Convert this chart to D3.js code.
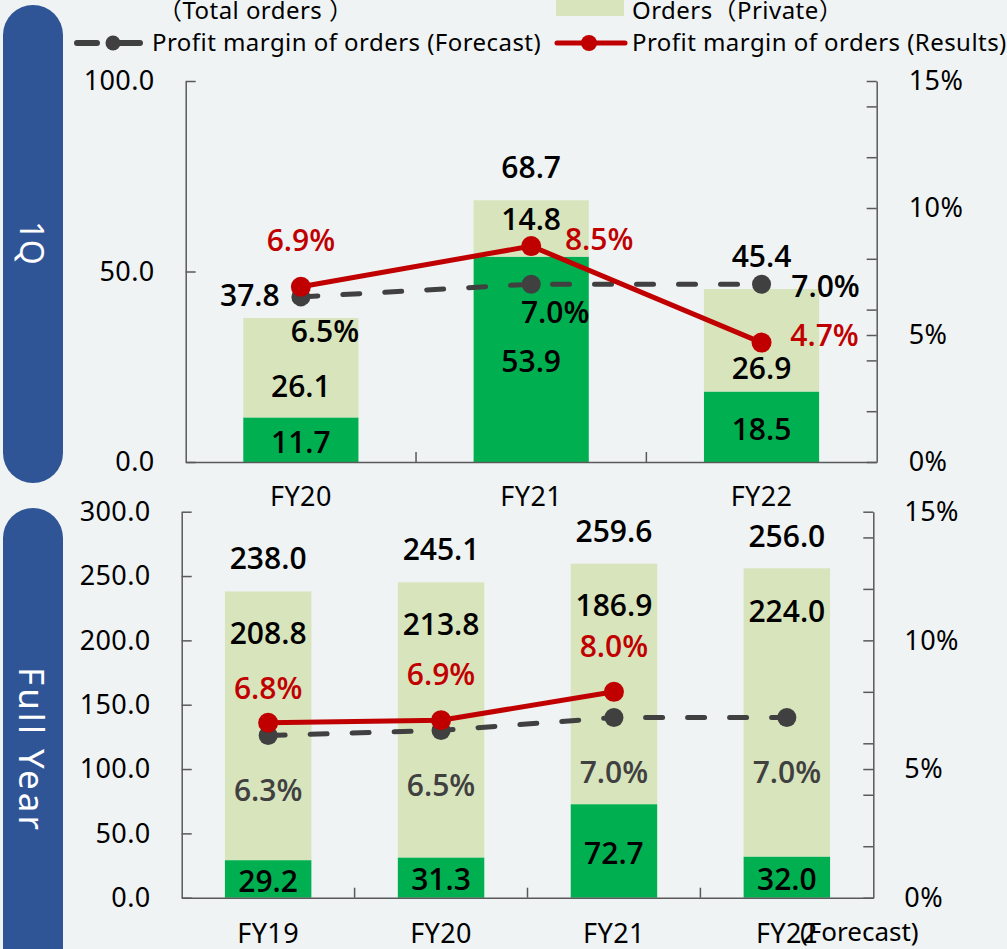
<!DOCTYPE html>
<html>
<head>
<meta charset="utf-8">
<script src="https://cdn.jsdelivr.net/npm/d3@7"></script>
<style>
  body { margin: 0; background: #eff3f4; }
  svg { display: block; font-family: "Noto Sans", "Noto Sans CJK JP", sans-serif; }
  .val { font-family: "Open Sans", "Noto Sans", sans-serif; font-weight: 600; font-size: 30px; }
</style>
</head>
<body>
<div id="chart"></div>
<script>
// ---- data ----
// 1Q panel
var cats1 = ["FY20", "FY21", "FY22"];
var public1 = [11.7, 53.9, 18.5];
var private1 = [26.1, 14.8, 26.9];
var total1 = [37.8, 68.7, 45.4];
var forecast1 = [6.5, 7.0, 7.0];
var results1 = [6.9, 8.5, 4.7];

// Full year panel
var cats2 = ["FY19", "FY20", "FY21", "FY22"];
var public2 = [29.2, 31.3, 72.7, 32.0];
var private2 = [208.8, 213.8, 186.9, 224.0];
var total2 = [238.0, 245.1, 259.6, 256.0];
var forecast2 = [6.3, 6.5, 7.0, 7.0];
var results2 = [6.8, 6.9, 8.0];

var leftTicks1 = [0, 50, 100];
var leftTicks2 = [0, 50, 100, 150, 200, 250, 300];
var rightTicks = [0, 2, 4, 5, 6, 8, 10, 12, 14, 15];
var rightLabels = [0, 5, 10, 15];

// ---- colours ----
var cGreen = "#00b050", cLight = "#d8e4bc", cRed = "#c00000", cGrey = "#404040",
    cAxis = "#595959", cPill = "#2f5597";

var svg = d3.select("#chart").append("svg")
  .attr("width", 1007)
  .attr("height", 949);

// blue side pills
svg.append("rect").attr("x", 3).attr("y", 5).attr("width", 60).attr("height", 478)
  .attr("rx", 30).attr("fill", cPill);
svg.append("rect").attr("x", 3).attr("y", 508).attr("width", 60).attr("height", 500)
  .attr("rx", 30).attr("fill", cPill);
svg.append("text").attr("transform", "translate(32,243) rotate(90)")
  .attr("text-anchor", "middle").attr("dy", "0.36em")
  .style("font-size", "32px").attr("fill", "#fff").text("1Q");
svg.append("text").attr("transform", "translate(32,750) rotate(90)")
  .attr("text-anchor", "middle").attr("dy", "0.36em")
  .style("font-size", "35px").style("letter-spacing", "3px").attr("fill", "#fff").text("Full Year");

// legend
var lg = svg.append("g").style("font-size", "24px").style("letter-spacing", "0.45px").attr("fill", "#000");
lg.append("text").attr("x", 158).attr("y", 19).text("（Total orders ）");
lg.append("rect").attr("x", 556).attr("y", -4).attr("width", 68).attr("height", 20).attr("fill", cLight);
lg.append("text").attr("x", 632).attr("y", 19).text("Orders（Private）");
lg.append("line").attr("x1", 77).attr("x2", 97).attr("y1", 43).attr("y2", 43)
  .attr("stroke", cGrey).attr("stroke-width", 6).attr("stroke-linecap", "round");
lg.append("line").attr("x1", 113).attr("x2", 140).attr("y1", 43).attr("y2", 43)
  .attr("stroke", cGrey).attr("stroke-width", 6).attr("stroke-linecap", "round");
lg.append("circle").attr("cx", 113).attr("cy", 43).attr("r", 7.5).attr("fill", cGrey);
lg.append("text").attr("x", 152).attr("y", 51).text("Profit margin of orders (Forecast)");
lg.append("line").attr("x1", 557).attr("x2", 625).attr("y1", 43).attr("y2", 43)
  .attr("stroke", cRed).attr("stroke-width", 5).attr("stroke-linecap", "round");
lg.append("circle").attr("cx", 589).attr("cy", 43).attr("r", 8).attr("fill", cRed);
lg.append("text").attr("x", 632).attr("y", 51).text("Profit margin of orders (Results)");

// ---- one panel ----
function drawPanel(o) {
  var g = svg.append("g");
  var x = d3.scaleBand().domain(o.cats).range([o.left, o.right])
    .paddingInner(0.5).paddingOuter(0.25);
  var y = d3.scaleLinear().domain([0, o.maxL]).range([o.bottom, o.top]);
  var r = d3.scaleLinear().domain([0, 15]).range([o.bottom, o.top]);
  var cx = function(i) { return x(o.cats[i]) + x.bandwidth() / 2; };

  // bars
  o.cats.forEach(function(c, i) {
    g.append("rect").attr("x", x(c)).attr("width", x.bandwidth())
      .attr("y", y(o.pub[i])).attr("height", y(0) - y(o.pub[i])).attr("fill", cGreen);
    g.append("rect").attr("x", x(c)).attr("width", x.bandwidth())
      .attr("y", y(o.pub[i] + o.priv[i])).attr("height", y(o.pub[i]) - y(o.pub[i] + o.priv[i]))
      .attr("fill", cLight);
  });

  // axes
  var ya = g.append("g").attr("transform", "translate(" + o.left + ",0)")
    .call(d3.axisLeft(y).tickValues(o.leftTicks).tickFormat(d3.format(".1f"))
      .tickSizeInner(-10).tickSizeOuter(0).tickPadding(o.padL));
  var ra = g.append("g").attr("transform", "translate(" + o.right + ",0)")
    .call(d3.axisRight(r).tickValues(rightTicks)
      .tickFormat(function(d) { return rightLabels.indexOf(d) >= 0 ? d + "%" : ""; })
      .tickSizeInner(-10).tickSizeOuter(0).tickPadding(o.padR));
  var xa = g.append("g").attr("transform", "translate(0," + o.bottom + ")")
    .call(d3.axisBottom(x).tickSize(0).tickPadding(o.padB));
  [ya, ra, xa].forEach(function(a) {
    a.attr("font-family", null).attr("font-size", null)
      .style("font-size", "27px").style("letter-spacing", "0.4px");
    a.selectAll("text").attr("fill", "#000");
    a.selectAll("path, line").attr("stroke", cAxis).attr("stroke-width", 1.5);
  });
  // category separators
  o.cats.slice(1).forEach(function(c) {
    var sx = x(c) - x.step() * x.paddingInner() / 2;
    g.append("line").attr("x1", sx).attr("x2", sx)
      .attr("y1", o.bottom).attr("y2", o.bottom - 10)
      .attr("stroke", cAxis).attr("stroke-width", 1.5);
  });

  // lines
  var line = d3.line().x(function(d, i) { return cx(i); }).y(function(d) { return r(d); });
  g.append("path").datum(o.fc).attr("d", line).attr("fill", "none")
    .attr("stroke", cGrey).attr("stroke-width", 5).attr("stroke-linecap", "round")
    .attr("stroke-dasharray", "17,25");
  g.selectAll(".fdot").data(o.fc).enter().append("circle")
    .attr("cx", function(d, i) { return cx(i); }).attr("cy", function(d) { return r(d); })
    .attr("r", 9.5).attr("fill", cGrey);
  g.append("path").datum(o.res).attr("d", line).attr("fill", "none")
    .attr("stroke", cRed).attr("stroke-width", 5);
  g.selectAll(".rdot").data(o.res).enter().append("circle")
    .attr("cx", function(d, i) { return cx(i); }).attr("cy", function(d) { return r(d); })
    .attr("r", 10).attr("fill", cRed);

  // value labels
  function label(px, py, txt, col) {
    g.append("text").attr("class", "val").attr("x", px).attr("y", py).attr("dy", "0.36em")
      .attr("text-anchor", "middle").attr("fill", col).text(txt);
  }
  o.cats.forEach(function(c, i) {
    var n;
    n = o.nTotal[i]; label(cx(i) + n[0], y(o.tot[i]) + n[1], o.tot[i].toFixed(1), "#000");
    n = o.nPriv[i]; label(cx(i) + n[0], y(o.tot[i]) + n[1], o.priv[i].toFixed(1), "#000");
    label(cx(i), (y(0) + y(o.pub[i])) / 2 + 2, o.pub[i].toFixed(1), "#000");
    n = o.nFc[i]; label(cx(i) + n[0], r(o.fc[i]) + n[1], o.fc[i].toFixed(1) + "%", o.fcCol);
    if (i < o.res.length) {
      n = o.nRes[i]; label(cx(i) + n[0], r(o.res[i]) + n[1], o.res[i].toFixed(1) + "%", cRed);
    }
  });
  return g;
}

drawPanel({
  cats: cats1, pub: public1, priv: private1, tot: total1, fc: forecast1, res: results1,
  maxL: 100, leftTicks: leftTicks1,
  left: 185.7, right: 876.7, top: 81, bottom: 462, padL: 31, padR: 32, padB: 25,
  nTotal: [[-51, -23], [0, -33], [0, -33]],
  nPriv: [[0, 68], [0, 19], [0, 79]],
  nFc: [[24, 34], [24, 28], [64, 2]],
  nRes: [[0, -47], [68, -7], [63, -7]],
  fcCol: "#000"
});

var g2 = drawPanel({
  cats: cats2, pub: public2, priv: private2, tot: total2, fc: forecast2, res: results2,
  maxL: 300, leftTicks: leftTicks2,
  left: 181.7, right: 873.3, top: 511.7, bottom: 897.7, padL: 31, padR: 31, padB: 26,
  nTotal: [[0, -33], [0, -33], [0, -32], [0, -32]],
  nPriv: [[0, 42], [0, 42], [0, 42], [0, 43]],
  nFc: [[0, 55], [0, 55], [0, 55], [0, 55]],
  nRes: [[0, -35], [0, -46], [0, -46]],
  fcCol: cGrey
});
g2.append("text").attr("x", 800).attr("y", 923).attr("dy", "0.71em")
  .style("font-size", "26px").attr("fill", "#000").text("(Forecast)");
</script>
</body>
</html>
